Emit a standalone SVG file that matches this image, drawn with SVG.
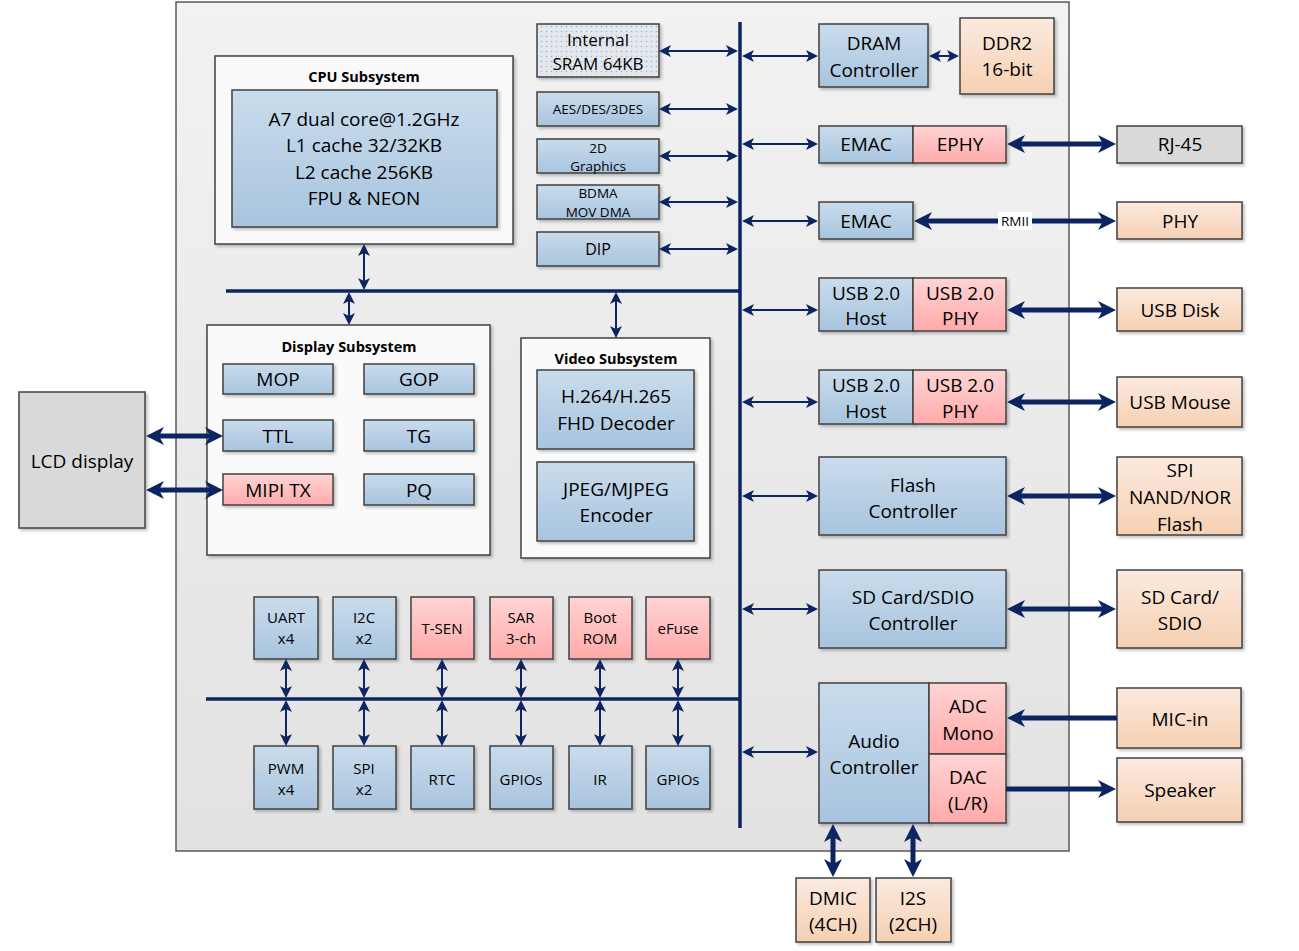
<svg xmlns="http://www.w3.org/2000/svg" width="1299" height="951" viewBox="0 0 1299 951">
<defs>
<style>
.t{font-family:"Open Sans","Liberation Sans",sans-serif;font-size:19px;fill:#000;text-anchor:middle;dominant-baseline:central}
.s15{font-size:15px}
.s13{font-size:13.5px}
.s17{font-size:17px}
.ttl{font-family:"Open Sans","Liberation Sans",sans-serif;font-size:14.5px;font-weight:bold;fill:#000;text-anchor:middle;dominant-baseline:central}
.blue{fill:url(#gBlue);stroke:#404040;stroke-width:1.5;filter:url(#sh)}
.pink{fill:url(#gPink);stroke:#404040;stroke-width:1.5;filter:url(#sh)}
.peach{fill:url(#gPeach);stroke:#404040;stroke-width:1.5;filter:url(#sh)}
.gray{fill:#d9d9d9;stroke:#404040;stroke-width:1.5;filter:url(#sh)}
.white{fill:#fafafa;stroke:#404040;stroke-width:1.5;filter:url(#sh)}
.bus{stroke:#0c2461;stroke-width:3.5;fill:none}
.thin{stroke:#0c2461;stroke-width:2;fill:none;marker-start:url(#aThin);marker-end:url(#aThin)}
.thick{stroke:#0c2461;stroke-width:5;fill:none;marker-start:url(#aThick);marker-end:url(#aThick)}
.thick1{stroke:#0c2461;stroke-width:5;fill:none;marker-end:url(#aThick)}
</style>
<linearGradient id="gBlue" x1="0" y1="0" x2="0" y2="1"><stop offset="0" stop-color="#c9dcec"/><stop offset="1" stop-color="#a8c4de"/></linearGradient>
<linearGradient id="gPink" x1="0" y1="0" x2="0" y2="1"><stop offset="0" stop-color="#ffd4d4"/><stop offset="1" stop-color="#ffaaaa"/></linearGradient>
<linearGradient id="gPeach" x1="0" y1="0" x2="0" y2="1"><stop offset="0" stop-color="#fbeadf"/><stop offset="1" stop-color="#f6d0b2"/></linearGradient>
<linearGradient id="gChip" x1="0" y1="0" x2="0" y2="1"><stop offset="0" stop-color="#f2f2f2"/><stop offset="1" stop-color="#e2e2e2"/></linearGradient>
<pattern id="dots" width="5" height="5" patternUnits="userSpaceOnUse"><rect width="5" height="5" fill="#e3e8ee"/><circle cx="1.5" cy="1.5" r="0.8" fill="#a9b4c2"/></pattern>
<filter id="sh" x="-10%" y="-10%" width="130%" height="130%"><feDropShadow dx="2" dy="2" stdDeviation="1.5" flood-color="#000" flood-opacity="0.25"/></filter>
<marker id="aThin" viewBox="0 0 12 12" markerWidth="12" markerHeight="12" markerUnits="userSpaceOnUse" refX="4" refY="6" orient="auto-start-reverse"><path d="M0,0 L12,6 L0,12 L3,6 z" fill="#0c2461"/></marker>
<marker id="aThick" viewBox="0 0 18 18" markerWidth="18" markerHeight="18" markerUnits="userSpaceOnUse" refX="6" refY="9" orient="auto-start-reverse"><path d="M0,0 L18,9 L0,18 L5,9 z" fill="#0c2461"/></marker>
</defs>
<rect width="1299" height="951" fill="#ffffff"/>

<g id="chip"><rect x="176" y="2" width="893" height="849" fill="url(#gChip)" stroke="#595959" stroke-width="1.5"/></g>

<g id="cpu-subsystem">
<rect class="white" x="215" y="56" width="298" height="188"/>
<text class="ttl" x="364" y="76">CPU Subsystem</text>
<rect class="blue" x="232" y="90" width="265" height="137"/>
<text class="t" x="364" y="119">A7 dual core@1.2GHz</text>
<text class="t" x="364" y="145">L1 cache 32/32KB</text>
<text class="t" x="364" y="172">L2 cache 256KB</text>
<text class="t" x="364" y="198">FPU &amp; NEON</text>
</g>

<g id="display-subsystem">
<rect class="white" x="207" y="325" width="283" height="230"/>
<text class="ttl" x="349" y="346">Display Subsystem</text>
</g>
<g id="mop"><rect class="blue" x="223" y="364" width="110" height="30"/><text class="t" x="278" y="379">MOP</text></g>
<g id="gop"><rect class="blue" x="364" y="364" width="110" height="30"/><text class="t" x="419" y="379">GOP</text></g>
<g id="ttl"><rect class="blue" x="223" y="420" width="110" height="31"/><text class="t" x="278" y="436">TTL</text></g>
<g id="tg"><rect class="blue" x="364" y="420" width="110" height="31"/><text class="t" x="419" y="436">TG</text></g>
<g id="mipi-tx"><rect class="pink" x="223" y="474" width="110" height="31"/><text class="t" x="278" y="490">MIPI TX</text></g>
<g id="pq"><rect class="blue" x="364" y="474" width="110" height="31"/><text class="t" x="419" y="490">PQ</text></g>

<g id="lcd"><rect class="gray" x="19" y="392" width="126" height="136"/><text class="t" x="82" y="461">LCD display</text></g>

<g id="video-subsystem">
<rect class="white" x="521" y="338" width="189" height="220"/>
<text class="ttl" x="616" y="358">Video Subsystem</text>
</g>
<g id="decoder"><rect class="blue" x="537" y="370" width="157" height="79"/><text class="t" x="616" y="396">H.264/H.265</text><text class="t" x="616" y="423">FHD Decoder</text></g>
<g id="encoder"><rect class="blue" x="537" y="462" width="157" height="79"/><text class="t" x="616" y="489">JPEG/MJPEG</text><text class="t" x="616" y="515">Encoder</text></g>

<g id="sram"><rect x="537" y="24" width="122" height="53" fill="url(#dots)" stroke="#404040" stroke-width="1.5" filter="url(#sh)"/><text class="t s17" x="598" y="39">Internal</text><text class="t s17" x="598" y="63">SRAM 64KB</text></g>
<g id="aes"><rect class="blue" x="537" y="92" width="122" height="34"/><text class="t s13" x="598" y="109">AES/DES/3DES</text></g>
<g id="g2d"><rect class="blue" x="537" y="139" width="122" height="34"/><text class="t s13" x="598" y="148">2D</text><text class="t s13" x="598" y="166">Graphics</text></g>
<g id="bdma"><rect class="blue" x="537" y="185" width="122" height="34"/><text class="t s13" x="598" y="193">BDMA</text><text class="t s13" x="598" y="212">MOV DMA</text></g>
<g id="dip"><rect class="blue" x="537" y="232" width="122" height="34"/><text class="t" style="font-size:16px" x="598" y="249">DIP</text></g>

<g id="dram"><rect class="blue" x="819" y="24" width="109" height="63"/><text class="t" x="874" y="43">DRAM</text><text class="t" x="874" y="70">Controller</text></g>
<g id="ddr2"><rect class="peach" x="960" y="18" width="94" height="76"/><text class="t" x="1007" y="43">DDR2</text><text class="t" x="1007" y="69">16-bit</text></g>
<g id="emac1"><rect class="blue" x="819" y="126" width="94" height="37"/><text class="t" x="866" y="144">EMAC</text></g>
<g id="ephy"><rect class="pink" x="913" y="126" width="93" height="37"/><text class="t" x="960" y="144">EPHY</text></g>
<g id="rj45"><rect class="gray" x="1117" y="126" width="125" height="37"/><text class="t" x="1180" y="144">RJ-45</text></g>
<g id="emac2"><rect class="blue" x="819" y="202" width="94" height="37"/><text class="t" x="866" y="221">EMAC</text></g>
<g id="phy"><rect class="peach" x="1117" y="202" width="125" height="37"/><text class="t" x="1180" y="221">PHY</text></g>
<g id="usb-host1"><rect class="blue" x="819" y="278" width="94" height="53"/><text class="t" x="866" y="293">USB 2.0</text><text class="t" x="866" y="318">Host</text></g>
<g id="usb-phy1"><rect class="pink" x="913" y="278" width="93" height="53"/><text class="t" x="960" y="293">USB 2.0</text><text class="t" x="960" y="318">PHY</text></g>
<g id="usb-disk"><rect class="peach" x="1117" y="288" width="125" height="43"/><text class="t" x="1180" y="310">USB Disk</text></g>
<g id="usb-host2"><rect class="blue" x="819" y="370" width="94" height="54"/><text class="t" x="866" y="385">USB 2.0</text><text class="t" x="866" y="411">Host</text></g>
<g id="usb-phy2"><rect class="pink" x="913" y="370" width="93" height="54"/><text class="t" x="960" y="385">USB 2.0</text><text class="t" x="960" y="411">PHY</text></g>
<g id="usb-mouse"><rect class="peach" x="1117" y="377" width="125" height="50"/><text class="t" x="1180" y="402">USB Mouse</text></g>
<g id="flash-ctrl"><rect class="blue" x="819" y="457" width="187" height="78"/><text class="t" x="913" y="485">Flash</text><text class="t" x="913" y="511">Controller</text></g>
<g id="spi-flash"><rect class="peach" x="1117" y="457" width="125" height="78"/><text class="t" x="1180" y="470">SPI</text><text class="t" x="1180" y="497">NAND/NOR</text><text class="t" x="1180" y="524">Flash</text></g>
<g id="sd-ctrl"><rect class="blue" x="819" y="570" width="187" height="78"/><text class="t" x="913" y="597">SD Card/SDIO</text><text class="t" x="913" y="623">Controller</text></g>
<g id="sd-card"><rect class="peach" x="1117" y="570" width="125" height="78"/><text class="t" x="1180" y="597">SD Card/</text><text class="t" x="1180" y="623">SDIO</text></g>
<g id="audio"><rect class="blue" x="819" y="683" width="110" height="140"/><text class="t" x="874" y="741">Audio</text><text class="t" x="874" y="767">Controller</text></g>
<g id="adc"><rect class="pink" x="929" y="683" width="77" height="71"/><text class="t" x="968" y="706">ADC</text><text class="t" x="968" y="733">Mono</text></g>
<g id="dac"><rect class="pink" x="929" y="754" width="77" height="69"/><text class="t" x="968" y="777">DAC</text><text class="t" x="968" y="803">(L/R)</text></g>
<g id="mic-in"><rect class="peach" x="1117" y="688" width="124" height="60"/><text class="t" x="1180" y="719">MIC-in</text></g>
<g id="speaker"><rect class="peach" x="1117" y="758" width="125" height="64"/><text class="t" x="1180" y="790">Speaker</text></g>
<g id="dmic"><rect class="peach" x="796" y="878" width="74" height="64"/><text class="t" x="833" y="898">DMIC</text><text class="t" x="833" y="924">(4CH)</text></g>
<g id="i2s"><rect class="peach" x="876" y="878" width="75" height="64"/><text class="t" x="913" y="898">I2S</text><text class="t" x="913" y="924">(2CH)</text></g>

<g id="uart"><rect class="blue" x="254" y="597" width="64" height="62"/><text class="t s15" x="286" y="617">UART</text><text class="t s15" x="286" y="638">x4</text></g>
<g id="i2c"><rect class="blue" x="333" y="597" width="63" height="62"/><text class="t s15" x="364" y="617">I2C</text><text class="t s15" x="364" y="638">x2</text></g>
<g id="tsen"><rect class="pink" x="411" y="597" width="63" height="62"/><text class="t s15" x="442" y="628">T-SEN</text></g>
<g id="sar"><rect class="pink" x="490" y="597" width="63" height="62"/><text class="t s15" x="521" y="617">SAR</text><text class="t s15" x="521" y="638">3-ch</text></g>
<g id="bootrom"><rect class="pink" x="569" y="597" width="63" height="62"/><text class="t s15" x="600" y="617">Boot</text><text class="t s15" x="600" y="638">ROM</text></g>
<g id="efuse"><rect class="pink" x="646" y="597" width="64" height="62"/><text class="t s15" x="678" y="628">eFuse</text></g>
<g id="pwm"><rect class="blue" x="254" y="746" width="64" height="63"/><text class="t s15" x="286" y="768">PWM</text><text class="t s15" x="286" y="789">x4</text></g>
<g id="spi"><rect class="blue" x="333" y="746" width="63" height="63"/><text class="t s15" x="364" y="768">SPI</text><text class="t s15" x="364" y="789">x2</text></g>
<g id="rtc"><rect class="blue" x="411" y="746" width="63" height="63"/><text class="t s15" x="442" y="779">RTC</text></g>
<g id="gpios1"><rect class="blue" x="490" y="746" width="63" height="63"/><text class="t s15" x="521" y="779">GPIOs</text></g>
<g id="ir"><rect class="blue" x="569" y="746" width="63" height="63"/><text class="t s15" x="600" y="779">IR</text></g>
<g id="gpios2"><rect class="blue" x="646" y="746" width="64" height="63"/><text class="t s15" x="678" y="779">GPIOs</text></g>

<g id="connectors">
<line class="bus" x1="740" y1="22" x2="740" y2="828"/>
<line class="bus" x1="226" y1="291" x2="740" y2="291"/>
<line class="bus" x1="206" y1="699" x2="740" y2="699"/>
<line class="thin" x1="364" y1="252" x2="364" y2="282"/>
<line class="thin" x1="349" y1="300" x2="349" y2="317"/>
<line class="thin" x1="616" y1="300" x2="616" y2="330"/>
<line class="thin" x1="667" y1="51" x2="730" y2="51"/>
<line class="thin" x1="667" y1="109" x2="730" y2="109"/>
<line class="thin" x1="667" y1="156" x2="730" y2="156"/>
<line class="thin" x1="667" y1="202" x2="730" y2="202"/>
<line class="thin" x1="667" y1="249" x2="730" y2="249"/>
<line class="thin" x1="750" y1="56" x2="810" y2="56"/>
<line class="thin" x1="750" y1="144" x2="810" y2="144"/>
<line class="thin" x1="750" y1="221" x2="810" y2="221"/>
<line class="thin" x1="750" y1="310" x2="810" y2="310"/>
<line class="thin" x1="750" y1="402" x2="810" y2="402"/>
<line class="thin" x1="750" y1="496" x2="810" y2="496"/>
<line class="thin" x1="750" y1="609" x2="810" y2="609"/>
<line class="thin" x1="750" y1="752" x2="810" y2="752"/>
<line class="thin" x1="937" y1="56" x2="951" y2="56"/>
<line class="thin" x1="286" y1="667" x2="286" y2="690"/>
<line class="thin" x1="364" y1="667" x2="364" y2="690"/>
<line class="thin" x1="442" y1="667" x2="442" y2="690"/>
<line class="thin" x1="521" y1="667" x2="521" y2="690"/>
<line class="thin" x1="600" y1="667" x2="600" y2="690"/>
<line class="thin" x1="678" y1="667" x2="678" y2="690"/>
<line class="thin" x1="286" y1="708" x2="286" y2="738"/>
<line class="thin" x1="364" y1="708" x2="364" y2="738"/>
<line class="thin" x1="442" y1="708" x2="442" y2="738"/>
<line class="thin" x1="521" y1="708" x2="521" y2="738"/>
<line class="thin" x1="600" y1="708" x2="600" y2="738"/>
<line class="thin" x1="678" y1="708" x2="678" y2="738"/>
<line class="thick" x1="158" y1="436" x2="211" y2="436"/>
<line class="thick" x1="158" y1="490" x2="211" y2="490"/>
<line class="thick" x1="1019" y1="144" x2="1104" y2="144"/>
<line class="thick" x1="926" y1="221" x2="1104" y2="221"/>
<line class="thick" x1="1019" y1="310" x2="1104" y2="310"/>
<line class="thick" x1="1019" y1="402" x2="1104" y2="402"/>
<line class="thick" x1="1019" y1="496" x2="1104" y2="496"/>
<line class="thick" x1="1019" y1="609" x2="1104" y2="609"/>
<line class="thick1" x1="1117" y1="718" x2="1019" y2="718"/>
<line class="thick1" x1="1006" y1="789" x2="1104" y2="789"/>
<line class="thick" x1="833" y1="836" x2="833" y2="865"/>
<line class="thick" x1="913" y1="836" x2="913" y2="865"/>
<rect x="998" y="212" width="34" height="18" fill="#ffffff"/>
<text class="t s13" x="1015" y="221">RMII</text>
</g>
</svg>
